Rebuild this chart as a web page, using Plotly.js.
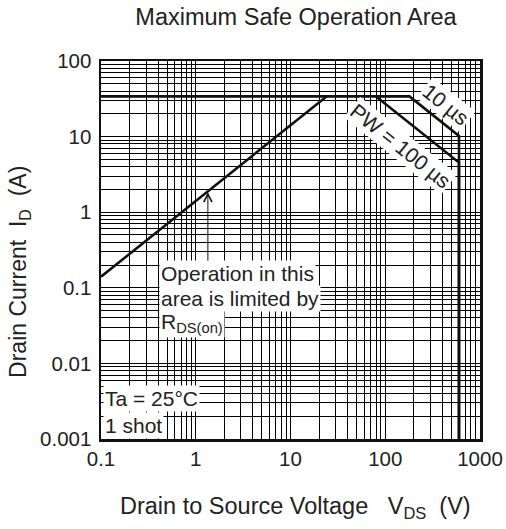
<!DOCTYPE html>
<html>
<head>
<meta charset="utf-8">
<script src="https://cdn.plot.ly/plotly-3.0.1.min.js"></script>
<style>html,body{margin:0;padding:0;background:#fff;}</style>
</head>
<body>
<div id="chart" style="width:506px;height:529px;"></div>
<script>
// ---- data ----
const rdsVds = [0.1, 24];
const rdsId = [0.14, 34];
const pw10Vds = [0.1, 180, 600, 600];
const pw10Id = [34, 34, 10.2, 0.001];
const pw100Vds = [80, 600, 600];
const pw100Id = [34, 4.53, 0.001];
const xTickVals = [0.1, 1, 10, 100, 1000];
const xTickText = ['0.1', '1', '10', '100', '1000'];
const yTickVals = [0.001, 0.01, 0.1, 1, 10, 100];
const yTickText = ['0.001', '0.01', '0.1', '1', '10', '100'];

const FONT = 'Liberation Sans, Arial, Helvetica, sans-serif';
const TXT = '#222222';
const lineStyle = {color: '#111111', width: 2.6};

const traces = [
  {x: rdsVds, y: rdsId, mode: 'lines', line: lineStyle, hoverinfo: 'skip'},
  {x: pw10Vds, y: pw10Id, mode: 'lines', line: lineStyle, hoverinfo: 'skip'},
  {x: pw100Vds, y: pw100Id, mode: 'lines', line: lineStyle, hoverinfo: 'skip'}
];

const gridMinor = {dtick: 'D1', showgrid: true, gridcolor: '#000000', gridwidth: 1, ticks: ''};

const ann = (o) => Object.assign({showarrow: false, font: {family: FONT, size: 21, color: TXT}}, o);

const layout = {
  width: 506, height: 529,
  margin: {l: 101, r: 26, t: 61, b: 90},
  paper_bgcolor: '#ffffff', plot_bgcolor: '#ffffff',
  showlegend: false,
  font: {family: FONT, color: TXT},
  title: {text: 'Maximum Safe Operation Area', font: {family: FONT, size: 23.5, color: TXT},
          x: 296/506, xanchor: 'center', y: 1 - 17/529, yanchor: 'middle'},
  xaxis: {type: 'log', range: [-1, 3], tickvals: xTickVals, ticktext: xTickText,
          tickfont: {family: FONT, size: 20.5, color: TXT}, ticks: '',
          showgrid: true, gridcolor: '#000000', gridwidth: 1,
          minor: gridMinor, showline: true, mirror: true, linecolor: '#111', linewidth: 2.5,
          zeroline: false, fixedrange: true},
  yaxis: {type: 'log', range: [-3, 2], tickvals: yTickVals, ticktext: yTickText,
          tickfont: {family: FONT, size: 20.5, color: TXT}, ticks: '', ticklabelstandoff: 3,
          showgrid: true, gridcolor: '#000000', gridwidth: 1,
          minor: gridMinor, showline: true, mirror: true, linecolor: '#111', linewidth: 2.5,
          zeroline: false, fixedrange: true},
  annotations: [
    ann({xref: 'paper', yref: 'paper', x: 0.512, y: -0.1825, xanchor: 'center', yanchor: 'middle',
         text: 'Drain to Source Voltage   V<sub>DS</sub>  (V)', font: {family: FONT, size: 23.5, color: TXT}}),
    ann({xref: 'paper', yref: 'paper', x: -0.2137, y: 0.442, xanchor: 'center', yanchor: 'middle', textangle: -90,
         text: 'Drain Current  I<sub>D</sub>  (A)', font: {family: FONT, size: 23, color: TXT}}),
    ann({xref: 'paper', yref: 'paper', x: 0.910, y: 0.885, xanchor: 'center', yanchor: 'middle', textangle: 38.6,
         text: '10 µs', bgcolor: '#ffffff'}),
    ann({xref: 'paper', yref: 'paper', x: 0.789, y: 0.776, xanchor: 'center', yanchor: 'middle', textangle: 38.6,
         text: 'PW = 100 µs', bgcolor: '#ffffff'}),
    ann({xref: 'paper', yref: 'paper', x: 0.153, y: 0.439, xanchor: 'left', yanchor: 'middle',
         text: 'Operation in this', bgcolor: '#ffffff'}),
    ann({xref: 'paper', yref: 'paper', x: 0.153, y: 0.373, xanchor: 'left', yanchor: 'middle',
         text: 'area is limited by', bgcolor: '#ffffff'}),
    ann({xref: 'paper', yref: 'paper', x: 0.153, y: 0.307, xanchor: 'left', yanchor: 'middle',
         text: 'R<sub>DS(on)</sub>', bgcolor: '#ffffff'}),
    ann({xref: 'paper', yref: 'paper', x: 0.006, y: 0.108, xanchor: 'left', yanchor: 'middle',
         text: 'Ta = 25°C', bgcolor: '#ffffff'}),
    ann({xref: 'paper', yref: 'paper', x: 0.006, y: 0.037, xanchor: 'left', yanchor: 'middle',
         text: '1 shot', bgcolor: '#ffffff'}),
    {xref: 'paper', yref: 'paper', x: 0.282, y: 0.653, showarrow: true, ax: 0, ay: 70,
     arrowhead: 5, arrowsize: 1.6, arrowwidth: 1, arrowcolor: '#111', text: ''}
  ]
};

Plotly.newPlot('chart', traces, layout, {staticPlot: true, displayModeBar: false});
</script>
</body>
</html>
